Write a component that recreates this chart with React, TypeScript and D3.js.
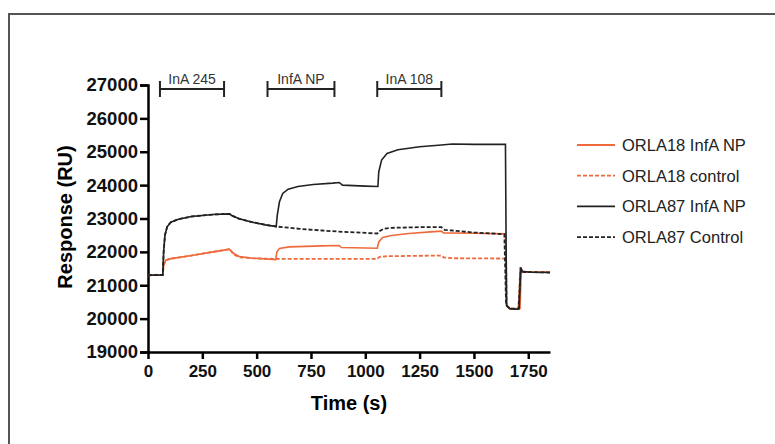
import React, { useEffect, useRef } from "react";
import * as d3 from "d3";

// time (s), response (RU)
const orla87NP: [number, number][] = [
  [0, 21300], [68, 21310], [72, 22000], [78, 22500], [88, 22750], [105, 22890], [140, 22980],
  [200, 23060], [300, 23120], [375, 23140], [385, 23090], [420, 22990], [480, 22890], [540, 22810],
  [590, 22760], [595, 23100], [605, 23500], [620, 23750], [645, 23880], [690, 23960], [760, 24020],
  [850, 24060], [880, 24080], [895, 24000], [1000, 23970], [1058, 23960], [1062, 24400],
  [1075, 24750], [1100, 24950], [1150, 25060], [1250, 25150], [1350, 25200], [1400, 25230],
  [1500, 25220], [1645, 25220], [1650, 20400], [1665, 20300], [1700, 20280], [1708, 20300],
  [1715, 21540], [1722, 21420], [1760, 21390], [1850, 21380],
];
const orla87Ctrl: [number, number][] = [
  [0, 21300], [68, 21310], [72, 22000], [78, 22500], [88, 22750], [105, 22890], [140, 22980],
  [200, 23060], [300, 23120], [375, 23140], [385, 23090], [420, 22990], [480, 22890], [540, 22810],
  [590, 22760], [700, 22690], [800, 22640], [900, 22600], [1000, 22570], [1055, 22550],
  [1065, 22620], [1085, 22690], [1120, 22720], [1250, 22740], [1350, 22740], [1365, 22660],
  [1400, 22640], [1500, 22580], [1640, 22530], [1648, 20400], [1665, 20300], [1705, 20300],
  [1715, 21450], [1725, 21400], [1850, 21380],
];
const orla18NP: [number, number][] = [
  [0, 21300], [68, 21310], [72, 21600], [82, 21750], [100, 21790], [200, 21890], [300, 22000],
  [375, 22080], [395, 21950], [420, 21860], [480, 21810], [588, 21770], [593, 22000],
  [605, 22100], [650, 22150], [800, 22180], [880, 22190], [890, 22130], [1055, 22110],
  [1062, 22300], [1080, 22430], [1120, 22490], [1200, 22550], [1300, 22600], [1350, 22620],
  [1360, 22570], [1500, 22560], [1645, 22540], [1650, 20400], [1665, 20300], [1700, 20280],
  [1712, 20300], [1718, 21500], [1725, 21400], [1850, 21390],
];
const orla18Ctrl: [number, number][] = [
  [0, 21300], [68, 21310], [72, 21600], [82, 21750], [100, 21790], [200, 21890], [300, 22000],
  [375, 22080], [395, 21920], [420, 21840], [480, 21810], [588, 21790], [700, 21790],
  [1055, 21790], [1065, 21850], [1100, 21870], [1350, 21890], [1362, 21830], [1400, 21810],
  [1648, 21800], [1652, 20400], [1665, 20300], [1705, 20300], [1713, 21480], [1722, 21400],
  [1850, 21390],
];

const seriesNames = ["ORLA18 InfA NP", "ORLA18 control", "ORLA87 InfA NP", "ORLA87 Control"];
const seriesData = [orla18NP, orla18Ctrl, orla87NP, orla87Ctrl];
const seriesColors = ["#ee6a3c", "#ee6a3c", "#222", "#222"];
const seriesDashed = [false, true, false, true];

const xTicks = [0, 250, 500, 750, 1000, 1250, 1500, 1750];
const yTicks = [19000, 20000, 21000, 22000, 23000, 24000, 25000, 26000, 27000];

// injection periods
const injLabels = ["InA 245", "InfA NP", "InA 108"];
const injStart = [55, 550, 1055];
const injEnd = [350, 858, 1350];

export default function App() {
  const ref = useRef<SVGSVGElement>(null);

  useEffect(() => {
    const svg = d3.select(ref.current);
    svg.selectAll("*").remove();

    const x = d3.scaleLinear().domain([0, 1850]).range([148, 550]);
    const y = d3.scaleLinear().domain([19000, 27000]).range([352, 85]);

    // frame
    svg.append("rect")
      .attr("x", 9).attr("y", 14).attr("width", 900).attr("height", 600)
      .attr("fill", "none").attr("stroke", "#555").attr("stroke-width", 2);

    const font = "Liberation Sans, Arial, sans-serif";

    const yAxis = svg.append("g")
      .attr("transform", `translate(${x(0)},0)`)
      .call(d3.axisLeft(y).tickValues(yTicks).tickSize(8).tickPadding(2).tickFormat(d3.format("d")));
    yAxis.select(".domain").attr("stroke", "#000").attr("stroke-width", 2.5);
    yAxis.selectAll(".tick line").attr("stroke", "#000").attr("stroke-width", 2.5);
    yAxis.selectAll(".tick text")
      .style("font-family", font).style("font-size", "18.5px").style("font-weight", "bold").attr("fill", "#111");

    const xAxis = svg.append("g")
      .attr("transform", `translate(0,${y(19000)})`)
      .call(d3.axisBottom(x).tickValues(xTicks).tickSize(7).tickPadding(6).tickSizeOuter(0).tickFormat(d3.format("d")));
    xAxis.select(".domain").attr("stroke", "#000").attr("stroke-width", 2.5);
    xAxis.selectAll(".tick line").attr("stroke", "#000").attr("stroke-width", 2.5);
    xAxis.selectAll(".tick text")
      .style("font-family", font).style("font-size", "17px").style("font-weight", "bold").attr("fill", "#111");

    svg.append("text")
      .attr("transform", `translate(72,217) rotate(-90)`)
      .attr("text-anchor", "middle")
      .style("font-family", font).style("font-size", "20px").style("font-weight", "bold")
      .text("Response (RU)");
    svg.append("text")
      .attr("x", 349).attr("y", 410)
      .attr("text-anchor", "middle")
      .style("font-family", font).style("font-size", "20px").style("font-weight", "bold")
      .text("Time (s)");

    // injection brackets
    const by = 89;
    injLabels.forEach((lab, i) => {
      const g = svg.append("g").attr("stroke", "#222").attr("stroke-width", 2);
      g.append("line").attr("x1", x(injStart[i])).attr("x2", x(injEnd[i])).attr("y1", by).attr("y2", by);
      g.append("line").attr("x1", x(injStart[i])).attr("x2", x(injStart[i])).attr("y1", by - 8).attr("y2", by + 8);
      g.append("line").attr("x1", x(injEnd[i])).attr("x2", x(injEnd[i])).attr("y1", by - 8).attr("y2", by + 8);
      svg.append("text")
        .attr("x", (x(injStart[i]) + x(injEnd[i])) / 2).attr("y", by - 5)
        .attr("text-anchor", "middle")
        .style("font-family", font).style("font-size", "14px").attr("fill", "#333")
        .text(lab);
    });

    const line = d3.line<[number, number]>().x(d => x(d[0])).y(d => y(d[1]));
    seriesData.forEach((data, i) => {
      svg.append("path")
        .datum(data)
        .attr("d", line)
        .attr("fill", "none")
        .attr("stroke", seriesColors[i])
        .attr("stroke-width", seriesDashed[i] ? 1.8 : 1.6)
        .attr("stroke-dasharray", seriesDashed[i] ? "4,2" : null);
    });

    // legend
    seriesNames.forEach((name, i) => {
      const ly = 145 + i * 30.7;
      svg.append("line")
        .attr("x1", 577).attr("x2", 615).attr("y1", ly).attr("y2", ly)
        .attr("stroke", seriesColors[i]).attr("stroke-width", 1.8)
        .attr("stroke-dasharray", seriesDashed[i] ? "4,2" : null);
      svg.append("text")
        .attr("x", 622).attr("y", ly + 6)
        .style("font-family", font).style("font-size", "16.5px").attr("fill", "#222")
        .text(name);
    });
  }, []);

  return (
    <svg ref={ref} width={775} height={444}
      style={{ position: "absolute", left: 0, top: 0, background: "#fff" }} />
  );
}
